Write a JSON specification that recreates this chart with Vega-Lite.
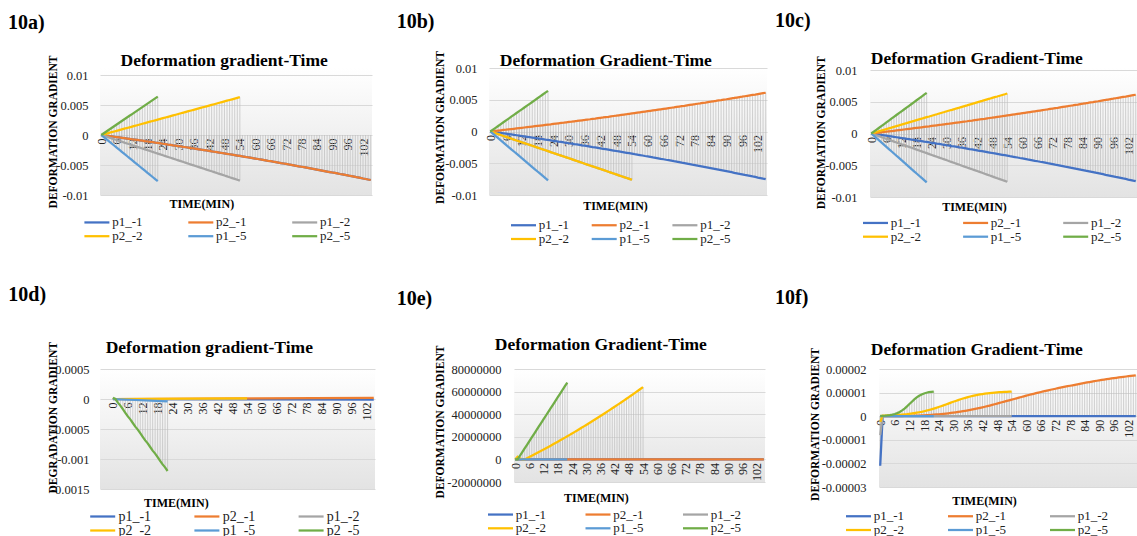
{
"$schema":"https://vega.github.io/schema/vega-lite/v6.json",
"background":"white",
"padding":{"left":8,"top":11,"right":0,"bottom":0},
"config":{
 "font":"Liberation Serif",
 "view":{"stroke":null,"fill":{"gradient":"linear","x1":0,"y1":0,"x2":0,"y2":1,"stops":[{"offset":0,"color":"#ffffff"},{"offset":1,"color":"#e3e3e3"}]}},
 "axisX":{"labelFont":"Liberation Serif","titleFont":"Liberation Serif","labelAngle":270,"labelFontSize":12,"labelPadding":3,"ticks":false,"domain":false,"grid":false,"labelOverlap":false,"labelFlush":false,"zindex":1,"titleFontSize":12,"titleFontWeight":"bold","titleBaseline":"alphabetic","labelColor":"#222","titleColor":"#000"},
 "axisY":{"labelFont":"Liberation Serif","titleFont":"Liberation Serif","labelFontSize":12.5,"labelPadding":12,"ticks":false,"domain":false,"grid":true,"gridColor":"#d9d9d9","titleFontSize":11.5,"titleFontWeight":"bold","titleAngle":270,"titleAlign":"center","titleBaseline":"middle","labelColor":"#222","titleColor":"#000"},
 "legend":{"labelFont":"Liberation Serif","columns":3,"direction":"horizontal","symbolType":"M-3.333,0L3.333,0","symbolSize":56.25,"symbolStrokeWidth":2.5,"labelFontSize":13,"labelOffset":8.75,"rowPadding":-1,"gridAlign":"all","labelColor":"#222","padding":0},
 "line":{"strokeWidth":2.25},
 "rule":{"color":"#bdbdbd","strokeWidth":0.7},
 "mark":{"invalid":"filter"},
 "title":{"font":"Liberation Serif","fontWeight":"bold","color":"#000","baseline":"alphabetic"}
},
"datasets":{
"L1":[{"t":0,"n":0,"p":0},{"t":1,"n":-0.00006,"p":0.00005},{"t":2,"n":-0.00012,"p":0.00009},{"t":3,"n":-0.00017,"p":0.00014},{"t":4,"n":-0.00023,"p":0.00019},{"t":5,"n":-0.00029,"p":0.00024},{"t":6,"n":-0.00035,"p":0.00028},{"t":7,"n":-0.00041,"p":0.00033},{"t":8,"n":-0.00047,"p":0.00038},{"t":9,"n":-0.00053,"p":0.00043},{"t":10,"n":-0.00059,"p":0.00048},{"t":11,"n":-0.00065,"p":0.00053},{"t":12,"n":-0.00071,"p":0.00058},{"t":13,"n":-0.00077,"p":0.00063},{"t":14,"n":-0.00083,"p":0.00068},{"t":15,"n":-0.00089,"p":0.00073},{"t":16,"n":-0.00095,"p":0.00078},{"t":17,"n":-0.00102,"p":0.00083},{"t":18,"n":-0.00108,"p":0.00088},{"t":19,"n":-0.00114,"p":0.00093},{"t":20,"n":-0.0012,"p":0.00098},{"t":21,"n":-0.00127,"p":0.00103},{"t":22,"n":-0.00133,"p":0.00108},{"t":23,"n":-0.00139,"p":0.00113},{"t":24,"n":-0.00146,"p":0.00119},{"t":25,"n":-0.00152,"p":0.00124},{"t":26,"n":-0.00159,"p":0.00129},{"t":27,"n":-0.00165,"p":0.00134},{"t":28,"n":-0.00172,"p":0.00139},{"t":29,"n":-0.00178,"p":0.00145},{"t":30,"n":-0.00185,"p":0.0015},{"t":31,"n":-0.00191,"p":0.00155},{"t":32,"n":-0.00198,"p":0.00161},{"t":33,"n":-0.00204,"p":0.00166},{"t":34,"n":-0.00211,"p":0.00172},{"t":35,"n":-0.00218,"p":0.00177},{"t":36,"n":-0.00224,"p":0.00182},{"t":37,"n":-0.00231,"p":0.00188},{"t":38,"n":-0.00238,"p":0.00193},{"t":39,"n":-0.00245,"p":0.00199},{"t":40,"n":-0.00251,"p":0.00204},{"t":41,"n":-0.00258,"p":0.0021},{"t":42,"n":-0.00265,"p":0.00216},{"t":43,"n":-0.00272,"p":0.00221},{"t":44,"n":-0.00279,"p":0.00227},{"t":45,"n":-0.00286,"p":0.00232},{"t":46,"n":-0.00293,"p":0.00238},{"t":47,"n":-0.003,"p":0.00244},{"t":48,"n":-0.00307,"p":0.00249},{"t":49,"n":-0.00314,"p":0.00255},{"t":50,"n":-0.00321,"p":0.00261},{"t":51,"n":-0.00328,"p":0.00267},{"t":52,"n":-0.00335,"p":0.00272},{"t":53,"n":-0.00342,"p":0.00278},{"t":54,"n":-0.00349,"p":0.00284},{"t":55,"n":-0.00357,"p":0.0029},{"t":56,"n":-0.00364,"p":0.00296},{"t":57,"n":-0.00371,"p":0.00302},{"t":58,"n":-0.00378,"p":0.00308},{"t":59,"n":-0.00386,"p":0.00314},{"t":60,"n":-0.00393,"p":0.0032},{"t":61,"n":-0.004,"p":0.00326},{"t":62,"n":-0.00408,"p":0.00332},{"t":63,"n":-0.00415,"p":0.00338},{"t":64,"n":-0.00422,"p":0.00344},{"t":65,"n":-0.0043,"p":0.0035},{"t":66,"n":-0.00437,"p":0.00356},{"t":67,"n":-0.00445,"p":0.00362},{"t":68,"n":-0.00452,"p":0.00368},{"t":69,"n":-0.0046,"p":0.00374},{"t":70,"n":-0.00468,"p":0.0038},{"t":71,"n":-0.00475,"p":0.00387},{"t":72,"n":-0.00483,"p":0.00393},{"t":73,"n":-0.00491,"p":0.00399},{"t":74,"n":-0.00498,"p":0.00405},{"t":75,"n":-0.00506,"p":0.00412},{"t":76,"n":-0.00514,"p":0.00418},{"t":77,"n":-0.00522,"p":0.00424},{"t":78,"n":-0.00529,"p":0.0043},{"t":79,"n":-0.00537,"p":0.00437},{"t":80,"n":-0.00545,"p":0.00443},{"t":81,"n":-0.00553,"p":0.0045},{"t":82,"n":-0.00561,"p":0.00456},{"t":83,"n":-0.00569,"p":0.00463},{"t":84,"n":-0.00577,"p":0.00469},{"t":85,"n":-0.00585,"p":0.00476},{"t":86,"n":-0.00593,"p":0.00482},{"t":87,"n":-0.00601,"p":0.00489},{"t":88,"n":-0.00609,"p":0.00495},{"t":89,"n":-0.00617,"p":0.00502},{"t":90,"n":-0.00625,"p":0.00508},{"t":91,"n":-0.00633,"p":0.00515},{"t":92,"n":-0.00641,"p":0.00522},{"t":93,"n":-0.0065,"p":0.00528},{"t":94,"n":-0.00658,"p":0.00535},{"t":95,"n":-0.00666,"p":0.00542},{"t":96,"n":-0.00674,"p":0.00548},{"t":97,"n":-0.00683,"p":0.00555},{"t":98,"n":-0.00691,"p":0.00562},{"t":99,"n":-0.00699,"p":0.00569},{"t":100,"n":-0.00708,"p":0.00576},{"t":101,"n":-0.00716,"p":0.00582},{"t":102,"n":-0.00725,"p":0.00589},{"t":103,"n":-0.00733,"p":0.00596},{"t":104,"n":-0.00742,"p":0.00603},{"t":105,"n":-0.0075,"p":0.0061}],
"L2":[{"t":0,"n":0,"p":0},{"t":1,"n":-0.00014,"p":0.00012},{"t":2,"n":-0.00028,"p":0.00023},{"t":3,"n":-0.00042,"p":0.00035},{"t":4,"n":-0.00056,"p":0.00047},{"t":5,"n":-0.0007,"p":0.00058},{"t":6,"n":-0.00084,"p":0.0007},{"t":7,"n":-0.00099,"p":0.00082},{"t":8,"n":-0.00113,"p":0.00093},{"t":9,"n":-0.00127,"p":0.00105},{"t":10,"n":-0.00141,"p":0.00117},{"t":11,"n":-0.00155,"p":0.00128},{"t":12,"n":-0.00169,"p":0.0014},{"t":13,"n":-0.00183,"p":0.00152},{"t":14,"n":-0.00197,"p":0.00163},{"t":15,"n":-0.00211,"p":0.00175},{"t":16,"n":-0.00225,"p":0.00187},{"t":17,"n":-0.00239,"p":0.00198},{"t":18,"n":-0.00253,"p":0.0021},{"t":19,"n":-0.00267,"p":0.00222},{"t":20,"n":-0.00281,"p":0.00233},{"t":21,"n":-0.00296,"p":0.00245},{"t":22,"n":-0.0031,"p":0.00257},{"t":23,"n":-0.00324,"p":0.00268},{"t":24,"n":-0.00338,"p":0.0028},{"t":25,"n":-0.00352,"p":0.00292},{"t":26,"n":-0.00366,"p":0.00303},{"t":27,"n":-0.0038,"p":0.00315},{"t":28,"n":-0.00394,"p":0.00327},{"t":29,"n":-0.00408,"p":0.00338},{"t":30,"n":-0.00422,"p":0.0035},{"t":31,"n":-0.00436,"p":0.00362},{"t":32,"n":-0.0045,"p":0.00373},{"t":33,"n":-0.00464,"p":0.00385},{"t":34,"n":-0.00479,"p":0.00397},{"t":35,"n":-0.00493,"p":0.00408},{"t":36,"n":-0.00507,"p":0.0042},{"t":37,"n":-0.00521,"p":0.00432},{"t":38,"n":-0.00535,"p":0.00443},{"t":39,"n":-0.00549,"p":0.00455},{"t":40,"n":-0.00563,"p":0.00467},{"t":41,"n":-0.00577,"p":0.00478},{"t":42,"n":-0.00591,"p":0.0049},{"t":43,"n":-0.00605,"p":0.00502},{"t":44,"n":-0.00619,"p":0.00513},{"t":45,"n":-0.00633,"p":0.00525},{"t":46,"n":-0.00647,"p":0.00537},{"t":47,"n":-0.00661,"p":0.00548},{"t":48,"n":-0.00676,"p":0.0056},{"t":49,"n":-0.0069,"p":0.00572},{"t":50,"n":-0.00704,"p":0.00583},{"t":51,"n":-0.00718,"p":0.00595},{"t":52,"n":-0.00732,"p":0.00607},{"t":53,"n":-0.00746,"p":0.00618},{"t":54,"n":-0.0076,"p":0.0063}],
"L5":[{"t":0,"n":0,"p":0},{"t":1,"n":-0.00035,"p":0.00029},{"t":2,"n":-0.0007,"p":0.00058},{"t":3,"n":-0.00105,"p":0.00087},{"t":4,"n":-0.0014,"p":0.00116},{"t":5,"n":-0.00175,"p":0.00145},{"t":6,"n":-0.0021,"p":0.00175},{"t":7,"n":-0.00245,"p":0.00204},{"t":8,"n":-0.0028,"p":0.00233},{"t":9,"n":-0.00315,"p":0.00262},{"t":10,"n":-0.0035,"p":0.00291},{"t":11,"n":-0.00385,"p":0.0032},{"t":12,"n":-0.0042,"p":0.00349},{"t":13,"n":-0.00455,"p":0.00378},{"t":14,"n":-0.0049,"p":0.00407},{"t":15,"n":-0.00525,"p":0.00436},{"t":16,"n":-0.0056,"p":0.00465},{"t":17,"n":-0.00595,"p":0.00495},{"t":18,"n":-0.0063,"p":0.00524},{"t":19,"n":-0.00665,"p":0.00553},{"t":20,"n":-0.007,"p":0.00582},{"t":21,"n":-0.00735,"p":0.00611},{"t":22,"n":-0.0077,"p":0.0064}],
"D":[{"t":0,"a":0,"b":0,"c":0,"d":0,"e":0,"f":0.00002},{"t":1,"f":0},{"t":2,"f":-0.00006},{"t":3,"f":-0.00011},{"t":4,"f":-0.00017},{"t":5,"f":-0.00023},{"t":6,"f":-0.00029},{"t":7,"f":-0.00034},{"t":8,"f":-0.0004},{"t":9,"f":-0.00046},{"t":10,"f":-0.00051},{"t":11,"f":-0.00057},{"t":12,"f":-0.00063},{"t":13,"f":-0.00069},{"t":14,"f":-0.00074},{"t":15,"f":-0.0008},{"t":16,"f":-0.00086},{"t":17,"f":-0.00091},{"t":18,"f":-0.00097},{"t":19,"f":-0.00103},{"t":20,"f":-0.00109},{"t":21,"f":-0.00114},{"t":22,"e":-0.00004,"f":-0.0012},{"t":54,"c":0,"d":0.00001},{"t":105,"a":-0.00001,"b":0.00002}],
"E":[{"t":0,"a":0,"b":0,"d":0,"e":0,"f":0},{"t":1,"d":2.4e6,"f":0},{"t":2,"d":1e6,"f":3.24e6},{"t":3,"d":0,"f":6.48e6},{"t":4,"d":0,"f":9.71e6},{"t":5,"d":1.06e6,"f":1.295e7},{"t":6,"d":2.13e6,"f":1.619e7},{"t":7,"d":3.21e6,"f":1.943e7},{"t":8,"d":4.3e6,"f":2.267e7},{"t":9,"d":5.4e6,"f":2.59e7},{"t":10,"d":6.5e6,"f":2.914e7},{"t":11,"d":7.62e6,"f":3.238e7},{"t":12,"d":8.74e6,"f":3.562e7},{"t":13,"d":9.87e6,"f":3.886e7},{"t":14,"d":1.102e7,"f":4.21e7},{"t":15,"d":1.217e7,"f":4.533e7},{"t":16,"d":1.333e7,"f":4.857e7},{"t":17,"d":1.449e7,"f":5.181e7},{"t":18,"d":1.567e7,"f":5.505e7},{"t":19,"d":1.686e7,"f":5.829e7},{"t":20,"d":1.805e7,"f":6.152e7},{"t":21,"d":1.926e7,"f":6.476e7},{"t":22,"d":2.047e7,"e":0,"f":6.8e7},{"t":23,"d":2.169e7},{"t":24,"d":2.292e7},{"t":25,"d":2.416e7},{"t":26,"d":2.541e7},{"t":27,"d":2.667e7},{"t":28,"d":2.793e7},{"t":29,"d":2.921e7},{"t":30,"d":3.049e7},{"t":31,"d":3.179e7},{"t":32,"d":3.309e7},{"t":33,"d":3.44e7},{"t":34,"d":3.572e7},{"t":35,"d":3.705e7},{"t":36,"d":3.839e7},{"t":37,"d":3.973e7},{"t":38,"d":4.109e7},{"t":39,"d":4.245e7},{"t":40,"d":4.383e7},{"t":41,"d":4.521e7},{"t":42,"d":4.66e7},{"t":43,"d":4.8e7},{"t":44,"d":4.941e7},{"t":45,"d":5.083e7},{"t":46,"d":5.225e7},{"t":47,"d":5.369e7},{"t":48,"d":5.513e7},{"t":49,"d":5.659e7},{"t":50,"d":5.805e7},{"t":51,"d":5.952e7},{"t":52,"d":6.1e7},{"t":53,"d":6.249e7},{"t":54,"d":6.4e7},{"t":105,"a":0,"b":0}],
"F":[{"t":0,"a":-2.1e-5,"b":0,"c":-8e-6,"d":-2.4e-6,"e":0,"f":0.1e-6},{"t":1,"a":0,"b":0,"c":0,"d":0.23e-6,"f":0.15e-6},{"t":2,"b":0,"d":0.27e-6,"f":0.22e-6},{"t":3,"b":0.01e-6,"d":0.31e-6,"f":0.32e-6},{"t":4,"b":0.02e-6,"d":0.35e-6,"f":0.46e-6},{"t":5,"b":0.03e-6,"d":0.4e-6,"f":0.66e-6},{"t":6,"b":0.04e-6,"d":0.46e-6,"f":0.93e-6},{"t":7,"b":0.05e-6,"d":0.53e-6,"f":1.31e-6},{"t":8,"b":0.06e-6,"d":0.6e-6,"f":1.81e-6},{"t":9,"b":0.08e-6,"d":0.69e-6,"f":2.45e-6},{"t":10,"b":0.1e-6,"d":0.79e-6,"f":3.24e-6},{"t":11,"b":0.13e-6,"d":0.89e-6,"f":4.15e-6},{"t":12,"b":0.16e-6,"d":1.02e-6,"f":5.15e-6},{"t":13,"b":0.19e-6,"d":1.15e-6,"f":6.15e-6},{"t":14,"b":0.22e-6,"d":1.31e-6,"f":7.11e-6},{"t":15,"b":0.25e-6,"d":1.48e-6,"f":7.95e-6},{"t":16,"b":0.29e-6,"d":1.67e-6,"f":8.65e-6},{"t":17,"b":0.34e-6,"d":1.87e-6,"f":9.21e-6},{"t":18,"b":0.39e-6,"d":2.1e-6,"f":9.63e-6},{"t":19,"b":0.45e-6,"d":2.35e-6,"f":9.94e-6},{"t":20,"b":0.5e-6,"d":2.62e-6,"f":10.17e-6},{"t":21,"b":0.57e-6,"d":2.91e-6,"f":10.33e-6},{"t":22,"b":0.65e-6,"d":3.22e-6,"e":0,"f":10.45e-6},{"t":23,"b":0.73e-6,"d":3.54e-6},{"t":24,"b":0.81e-6,"d":3.88e-6},{"t":25,"b":0.9e-6,"d":4.24e-6},{"t":26,"b":1.01e-6,"d":4.6e-6},{"t":27,"b":1.12e-6,"d":4.97e-6},{"t":28,"b":1.24e-6,"d":5.35e-6},{"t":29,"b":1.37e-6,"d":5.73e-6},{"t":30,"b":1.5e-6,"d":6.1e-6},{"t":31,"b":1.65e-6,"d":6.46e-6},{"t":32,"b":1.8e-6,"d":6.82e-6},{"t":33,"b":1.96e-6,"d":7.16e-6},{"t":34,"b":2.13e-6,"d":7.48e-6},{"t":35,"b":2.3e-6,"d":7.79e-6},{"t":36,"b":2.49e-6,"d":8.08e-6},{"t":37,"b":2.68e-6,"d":8.35e-6},{"t":38,"b":2.88e-6,"d":8.6e-6},{"t":39,"b":3.09e-6,"d":8.83e-6},{"t":40,"b":3.3e-6,"d":9.03e-6},{"t":41,"b":3.53e-6,"d":9.22e-6},{"t":42,"b":3.76e-6,"d":9.39e-6},{"t":43,"b":4.0e-6,"d":9.55e-6},{"t":44,"b":4.25e-6,"d":9.68e-6},{"t":45,"b":4.5e-6,"d":9.81e-6},{"t":46,"b":4.77e-6,"d":9.91e-6},{"t":47,"b":5.05e-6,"d":10.01e-6},{"t":48,"b":5.33e-6,"d":10.1e-6},{"t":49,"b":5.61e-6,"d":10.17e-6},{"t":50,"b":5.9e-6,"d":10.24e-6},{"t":51,"b":6.18e-6,"d":10.3e-6},{"t":52,"b":6.46e-6,"d":10.35e-6},{"t":53,"b":6.74e-6,"d":10.39e-6},{"t":54,"b":7.02e-6,"c":0,"d":10.43e-6},{"t":55,"b":7.3e-6},{"t":56,"b":7.58e-6},{"t":57,"b":7.86e-6},{"t":58,"b":8.14e-6},{"t":59,"b":8.42e-6},{"t":60,"b":8.7e-6},{"t":61,"b":8.97e-6},{"t":62,"b":9.23e-6},{"t":63,"b":9.49e-6},{"t":64,"b":9.75e-6},{"t":65,"b":10.0e-6},{"t":66,"b":10.25e-6},{"t":67,"b":10.49e-6},{"t":68,"b":10.73e-6},{"t":69,"b":10.97e-6},{"t":70,"b":11.2e-6},{"t":71,"b":11.42e-6},{"t":72,"b":11.64e-6},{"t":73,"b":11.86e-6},{"t":74,"b":12.08e-6},{"t":75,"b":12.3e-6},{"t":76,"b":12.5e-6},{"t":77,"b":12.7e-6},{"t":78,"b":12.9e-6},{"t":79,"b":13.1e-6},{"t":80,"b":13.3e-6},{"t":81,"b":13.5e-6},{"t":82,"b":13.7e-6},{"t":83,"b":13.9e-6},{"t":84,"b":14.1e-6},{"t":85,"b":14.3e-6},{"t":86,"b":14.48e-6},{"t":87,"b":14.66e-6},{"t":88,"b":14.84e-6},{"t":89,"b":15.02e-6},{"t":90,"b":15.2e-6},{"t":91,"b":15.36e-6},{"t":92,"b":15.52e-6},{"t":93,"b":15.68e-6},{"t":94,"b":15.84e-6},{"t":95,"b":16.0e-6},{"t":96,"b":16.14e-6},{"t":97,"b":16.28e-6},{"t":98,"b":16.42e-6},{"t":99,"b":16.56e-6},{"t":100,"b":16.7e-6},{"t":101,"b":16.82e-6},{"t":102,"b":16.94e-6},{"t":103,"b":17.06e-6},{"t":104,"b":17.18e-6},{"t":105,"a":0,"b":17.3e-6}]
},
"vconcat":[
{"hconcat":[
 {"title":{"text":"10a)","anchor":"start","frame":"group","dx":-92,"offset":19.4,"fontSize":20},"bounds":"flush","resolve":{"scale":{"color":"independent"},"legend":{"color":"independent"}},
  "vconcat":[{
   "width":272,"height":127,
   "title":{"text":"Deformation gradient-Time","anchor":"middle","frame":"group","dx":-11.8,"offset":-14.7,"fontSize":17.5},
   "encoding":{
    "x":{"field":"t","type":"quantitative","scale":{"domain":[-0.5,105.5],"nice":false,"zero":false},"axis":{"values":[0,6,12,18,24,30,36,42,48,54,60,66,72,78,84,90,96,102],"offset":-60,"title":"TIME(MIN)","titleX":101.3,"titleY":72.3}},
    "y":{"field":"v","type":"quantitative","scale":{"domain":[-0.01,0.011167],"nice":false,"zero":false},"axis":{"values":[-0.01,-0.005,0,0.005,0.01],"labelExpr":"''+datum.value","title":"DEFORMATION GRADIENT","titleX":-46.7,"titleY":63.5}}
   },
   "layer":[
    {"data":{"name":"L1"},"transform":[{"fold":["n"],"as":["k","v"]}],"mark":"rule","encoding":{"y2":{"datum":0}}},
    {"data":{"name":"L2"},"transform":[{"fold":["n","p"],"as":["k","v"]}],"mark":"rule","encoding":{"y2":{"datum":0}}},
    {"data":{"name":"L5"},"transform":[{"fold":["n","p"],"as":["k","v"]}],"mark":"rule","encoding":{"y2":{"datum":0}}},
    {"data":{"name":"L1"},"transform":[{"fold":["n"],"as":["k","v"]}],"mark":"line","encoding":{"color":{"datum":"p1_-1","type":"nominal","scale":{"domain":["p1_-1","p2_-1","p1_-2","p2_-2","p1_-5","p2_-5"],"range":["#4472C4","#ED7D31","#A5A5A5","#FFC000","#5B9BD5","#70AD47"]},"legend":{"title":null,"orient":"none","legendX":-9.6,"legendY":147.7,"columnPadding":39.9,"rowPadding":-0.9}}}},
    {"data":{"name":"L1"},"transform":[{"fold":["n"],"as":["k","v"]}],"mark":"line","encoding":{"color":{"datum":"p2_-1","type":"nominal"}}},
    {"data":{"name":"L2"},"transform":[{"fold":["n"],"as":["k","v"]}],"mark":"line","encoding":{"color":{"datum":"p1_-2","type":"nominal"}}},
    {"data":{"name":"L2"},"transform":[{"fold":["p"],"as":["k","v"]}],"mark":"line","encoding":{"color":{"datum":"p2_-2","type":"nominal"}}},
    {"data":{"name":"L5"},"transform":[{"fold":["n"],"as":["k","v"]}],"mark":"line","encoding":{"color":{"datum":"p1_-5","type":"nominal"}}},
    {"data":{"name":"L5"},"transform":[{"fold":["p"],"as":["k","v"]}],"mark":"line","encoding":{"color":{"datum":"p2_-5","type":"nominal"}}}
   ]
  }]},
 {"hconcat":[
  {"title":{"text":"10b)","anchor":"start","frame":"group","dx":-92.3,"offset":18.7,"fontSize":20},"bounds":"flush","resolve":{"scale":{"color":"independent"},"legend":{"color":"independent"}},
   "vconcat":[{
    "width":278,"height":127,
    "title":{"text":"Deformation Gradient-Time","anchor":"middle","frame":"group","dx":-22.2,"offset":-18.5,"fontSize":17.5},
    "encoding":{
     "x":{"field":"t","type":"quantitative","scale":{"domain":[-0.5,105.5],"nice":false,"zero":false},"axis":{"values":[0,6,12,18,24,30,36,42,48,54,60,66,72,78,84,90,96,102],"offset":-63.5,"title":"TIME(MIN)","titleX":126,"titleY":78.2}},
     "y":{"field":"v","type":"quantitative","scale":{"domain":[-0.01,0.01],"nice":false,"zero":false},"axis":{"values":[-0.01,-0.005,0,0.005,0.01],"labelExpr":"''+datum.value","title":"DEFORMATION GRADIENT","titleX":-49,"titleY":59}}
    },
    "layer":[
     {"data":{"name":"L1"},"transform":[{"fold":["n","p"],"as":["k","v"]}],"mark":"rule","encoding":{"y2":{"datum":0}}},
     {"data":{"name":"L2"},"transform":[{"fold":["n"],"as":["k","v"]}],"mark":"rule","encoding":{"y2":{"datum":0}}},
     {"data":{"name":"L5"},"transform":[{"fold":["n","p"],"as":["k","v"]}],"mark":"rule","encoding":{"y2":{"datum":0}}},
     {"data":{"name":"L1"},"transform":[{"fold":["n"],"as":["k","v"]}],"mark":"line","encoding":{"color":{"datum":"p1_-1","type":"nominal","scale":{"domain":["p1_-1","p2_-1","p1_-2","p2_-2","p1_-5","p2_-5"],"range":["#4472C4","#ED7D31","#A5A5A5","#FFC000","#5B9BD5","#70AD47"]},"legend":{"title":null,"orient":"none","legendX":28,"legendY":150.5,"columnPadding":16.7,"rowPadding":-0.2}}}},
     {"data":{"name":"L1"},"transform":[{"fold":["p"],"as":["k","v"]}],"mark":"line","encoding":{"color":{"datum":"p2_-1","type":"nominal"}}},
     {"data":{"name":"L2"},"transform":[{"fold":["n"],"as":["k","v"]}],"mark":"line","encoding":{"color":{"datum":"p1_-2","type":"nominal"}}},
     {"data":{"name":"L2"},"transform":[{"fold":["n"],"as":["k","v"]}],"mark":"line","encoding":{"color":{"datum":"p2_-2","type":"nominal"}}},
     {"data":{"name":"L5"},"transform":[{"fold":["n"],"as":["k","v"]}],"mark":"line","encoding":{"color":{"datum":"p1_-5","type":"nominal"}}},
     {"data":{"name":"L5"},"transform":[{"fold":["p"],"as":["k","v"]}],"mark":"line","encoding":{"color":{"datum":"p2_-5","type":"nominal"}}}
    ]
   }]},
  {"title":{"text":"10c)","anchor":"start","frame":"group","dx":-95,"offset":18.6,"fontSize":20},"bounds":"flush","resolve":{"scale":{"color":"independent"},"legend":{"color":"independent"}},
   "vconcat":[{
    "width":267,"height":129,
    "title":{"text":"Deformation Gradient-Time","anchor":"middle","frame":"group","dx":-26.7,"offset":-11.5,"fontSize":17.5},
    "encoding":{
     "x":{"field":"t","type":"quantitative","scale":{"domain":[-0.5,105.5],"nice":false,"zero":false},"axis":{"values":[0,6,12,18,24,30,36,42,48,54,60,66,72,78,84,90,96,102],"offset":-63.5,"title":"TIME(MIN)","titleX":104,"titleY":77}},
     "y":{"field":"v","type":"quantitative","scale":{"domain":[-0.01,0.010315],"nice":false,"zero":false},"axis":{"values":[-0.01,-0.005,0,0.005,0.01],"labelExpr":"''+datum.value","labelPadding":13,"title":"DEFORMATION GRADIENT","titleX":-49,"titleY":64.3}}
    },
    "layer":[
     {"data":{"name":"L1"},"transform":[{"fold":["n","p"],"as":["k","v"]}],"mark":"rule","encoding":{"y2":{"datum":0}}},
     {"data":{"name":"L2"},"transform":[{"fold":["n","p"],"as":["k","v"]}],"mark":"rule","encoding":{"y2":{"datum":0}}},
     {"data":{"name":"L5"},"transform":[{"fold":["n","p"],"as":["k","v"]}],"mark":"rule","encoding":{"y2":{"datum":0}}},
     {"data":{"name":"L1"},"transform":[{"fold":["n"],"as":["k","v"]}],"mark":"line","encoding":{"color":{"datum":"p1_-1","type":"nominal","scale":{"domain":["p1_-1","p2_-1","p1_-2","p2_-2","p1_-5","p2_-5"],"range":["#4472C4","#ED7D31","#A5A5A5","#FFC000","#5B9BD5","#70AD47"]},"legend":{"title":null,"orient":"none","legendX":-1,"legendY":148.2,"columnPadding":36.1,"rowPadding":-1.2}}}},
     {"data":{"name":"L1"},"transform":[{"fold":["p"],"as":["k","v"]}],"mark":"line","encoding":{"color":{"datum":"p2_-1","type":"nominal"}}},
     {"data":{"name":"L2"},"transform":[{"fold":["n"],"as":["k","v"]}],"mark":"line","encoding":{"color":{"datum":"p1_-2","type":"nominal"}}},
     {"data":{"name":"L2"},"transform":[{"fold":["p"],"as":["k","v"]}],"mark":"line","encoding":{"color":{"datum":"p2_-2","type":"nominal"}}},
     {"data":{"name":"L5"},"transform":[{"fold":["n"],"as":["k","v"]}],"mark":"line","encoding":{"color":{"datum":"p1_-5","type":"nominal"}}},
     {"data":{"name":"L5"},"transform":[{"fold":["p"],"as":["k","v"]}],"mark":"line","encoding":{"color":{"datum":"p2_-5","type":"nominal"}}}
    ]
   }]}
 ],"spacing":381,"bounds":"flush","resolve":{"scale":{"color":"independent"},"legend":{"color":"independent"}}}
],"spacing":389,"bounds":"flush","resolve":{"scale":{"color":"independent"},"legend":{"color":"independent"}}},
{"hconcat":[
 {"title":{"text":"10d)","anchor":"start","frame":"group","dx":-91.7,"offset":34,"fontSize":20},"bounds":"flush","resolve":{"scale":{"color":"independent"},"legend":{"color":"independent"}},
  "vconcat":[{
   "width":275,"height":120,
   "title":{"text":"Deformation gradient-Time","anchor":"middle","frame":"group","dx":-28.2,"offset":-15.1,"fontSize":17.5},
   "encoding":{
    "x":{"field":"t","type":"quantitative","scale":{"domain":[-5.2,105.5],"nice":false,"zero":false},"axis":{"values":[0,6,12,18,24,30,36,42,48,54,60,66,72,78,84,90,96,102],"offset":-90,"title":"TIME(MIN)","titleX":75.8,"titleY":107.3}},
    "y":{"field":"v","type":"quantitative","scale":{"domain":[-0.0015,0.0005],"nice":false,"zero":false},"axis":{"values":[-0.0015,-0.001,-0.0005,0,0.0005],"labelExpr":"''+datum.value","labelPadding":11,"title":"DEGRADATION GRADIENT","titleX":-46.7,"titleY":48.3}}
   },
   "layer":[
    {"data":{"name":"D"},"transform":[{"fold":["f"],"as":["k","v"]},{"filter":"isValid(datum.v)"}],"mark":"rule","encoding":{"y2":{"datum":0}}},
    {"data":{"name":"D"},"transform":[{"fold":["a"],"as":["k","v"]},{"filter":"isValid(datum.v)"}],"mark":"line","encoding":{"color":{"datum":"p1_-1","type":"nominal","scale":{"domain":["p1_-1","p2_-1","p1_-2","p2_-2","p1_-5","p2_-5"],"range":["#4472C4","#ED7D31","#A5A5A5","#FFC000","#5B9BD5","#70AD47"]},"legend":{"title":null,"orient":"none","legendX":-4.3,"legendY":140.5,"columnPadding":38.2,"labelFontSize":14,"rowPadding":-2.2}}}},
    {"data":{"name":"D"},"transform":[{"fold":["b"],"as":["k","v"]},{"filter":"isValid(datum.v)"}],"mark":"line","encoding":{"color":{"datum":"p2_-1","type":"nominal"}}},
    {"data":{"name":"D"},"transform":[{"fold":["c"],"as":["k","v"]},{"filter":"isValid(datum.v)"}],"mark":"line","encoding":{"color":{"datum":"p1_-2","type":"nominal"}}},
    {"data":{"name":"D"},"transform":[{"fold":["d"],"as":["k","v"]},{"filter":"isValid(datum.v)"}],"mark":"line","encoding":{"color":{"datum":"p2_-2","type":"nominal"}}},
    {"data":{"name":"D"},"transform":[{"fold":["e"],"as":["k","v"]},{"filter":"isValid(datum.v)"}],"mark":"line","encoding":{"color":{"datum":"p1_-5","type":"nominal"}}},
    {"data":{"name":"D"},"transform":[{"fold":["f"],"as":["k","v"]},{"filter":"isValid(datum.v)"}],"mark":"line","encoding":{"color":{"datum":"p2_-5","type":"nominal"}}}
   ]
  }]},
 {"hconcat":[
  {"title":{"text":"10e)","anchor":"start","frame":"group","dx":-117.3,"offset":26.7,"fontSize":20},"bounds":"flush","resolve":{"scale":{"color":"independent"},"legend":{"color":"independent"}},
   "vconcat":[{
    "width":251,"height":113,
    "title":{"text":"Deformation Gradient-Time","anchor":"middle","frame":"group","dx":-38.7,"offset":-8.5,"fontSize":17.5},
    "encoding":{
     "x":{"field":"t","type":"quantitative","scale":{"domain":[-0.5,105.5],"nice":false,"zero":false},"axis":{"values":[0,6,12,18,24,30,36,42,48,54,60,66,72,78,84,90,96,102],"offset":-22.6,"title":"TIME(MIN)","titleX":81.8,"titleY":41.9}},
     "y":{"field":"v","type":"quantitative","scale":{"domain":[-20000000,80000000],"nice":false,"zero":false},"axis":{"values":[-20000000,0,20000000,40000000,60000000,80000000],"labelExpr":"''+datum.value","labelPadding":13,"title":"DEFORMATION GRADIENT","titleX":-74,"titleY":52.5}}
    },
    "layer":[
     {"data":{"name":"E"},"transform":[{"fold":["d","f"],"as":["k","v"]},{"filter":"isValid(datum.v)"}],"mark":"rule","encoding":{"y2":{"datum":0}}},
     {"data":{"name":"E"},"transform":[{"fold":["a"],"as":["k","v"]},{"filter":"isValid(datum.v)"}],"mark":"line","encoding":{"color":{"datum":"p1_-1","type":"nominal","scale":{"domain":["p1_-1","p2_-1","p1_-2","p2_-2","p1_-5","p2_-5"],"range":["#4472C4","#ED7D31","#A5A5A5","#FFC000","#5B9BD5","#70AD47"]},"legend":{"title":null,"orient":"none","legendX":-20,"legendY":138.8,"columnPadding":33.5,"rowPadding":-1.8}}}},
     {"data":{"name":"E"},"transform":[{"fold":["b"],"as":["k","v"]},{"filter":"isValid(datum.v)"}],"mark":"line","encoding":{"color":{"datum":"p2_-1","type":"nominal"}}},
     {"data":{"name":"E"},"transform":[{"fold":["d"],"as":["k","v"]},{"filter":"isValid(datum.v)"}],"mark":"line","encoding":{"color":{"datum":"p2_-2","type":"nominal"}}},
     {"data":{"name":"E"},"transform":[{"fold":["e"],"as":["k","v"]},{"filter":"isValid(datum.v)"}],"mark":"line","encoding":{"color":{"datum":"p1_-5","type":"nominal"}}},
     {"data":{"name":"E"},"transform":[{"fold":["f"],"as":["k","v"]},{"filter":"isValid(datum.v)"}],"mark":"line","encoding":{"color":{"datum":"p2_-5","type":"nominal"}}}
    ]
   }]},
  {"title":{"text":"10f)","anchor":"start","frame":"group","dx":-104,"offset":33.4,"fontSize":20},"bounds":"flush","resolve":{"scale":{"color":"independent"},"legend":{"color":"independent"}},
   "vconcat":[{
    "width":258,"height":118,
    "title":{"text":"Deformation Gradient-Time","anchor":"middle","frame":"group","dx":-31.2,"offset":-11.2,"fontSize":17.5},
    "encoding":{
     "x":{"field":"t","type":"quantitative","scale":{"domain":[-0.5,105.5],"nice":false,"zero":false},"axis":{"values":[0,6,12,18,24,30,36,42,48,54,60,66,72,78,84,90,96,102],"offset":-70.8,"title":"TIME(MIN)","titleX":105,"titleY":88.5}},
     "y":{"field":"v","type":"quantitative","scale":{"domain":[-0.00003,0.00002],"nice":false,"zero":false},"axis":{"values":[-0.00003,-0.00002,-0.00001,0,0.00001,0.00002],"labelExpr":"''+datum.value","labelPadding":13,"title":"DEFORMATION GRADIENT","titleX":-64,"titleY":55}}
    },
    "layer":[
     {"data":{"name":"F"},"transform":[{"fold":["a","b","c","d","f"],"as":["k","v"]},{"filter":"isValid(datum.v)"}],"mark":"rule","encoding":{"y2":{"datum":0}}},
     {"data":{"name":"F"},"transform":[{"fold":["a"],"as":["k","v"]},{"filter":"isValid(datum.v)"}],"mark":"line","encoding":{"color":{"datum":"p1_-1","type":"nominal","scale":{"domain":["p1_-1","p2_-1","p1_-2","p2_-2","p1_-5","p2_-5"],"range":["#4472C4","#ED7D31","#A5A5A5","#FFC000","#5B9BD5","#70AD47"]},"legend":{"title":null,"orient":"none","legendX":-27,"legendY":140.5,"columnPadding":38,"rowPadding":-1.2}}}},
     {"data":{"name":"F"},"transform":[{"fold":["b"],"as":["k","v"]},{"filter":"isValid(datum.v)"}],"mark":"line","encoding":{"color":{"datum":"p2_-1","type":"nominal"}}},
     {"data":{"name":"F"},"transform":[{"fold":["c"],"as":["k","v"]},{"filter":"isValid(datum.v)"}],"mark":"line","encoding":{"color":{"datum":"p1_-2","type":"nominal"}}},
     {"data":{"name":"F"},"transform":[{"fold":["d"],"as":["k","v"]},{"filter":"isValid(datum.v)"}],"mark":"line","encoding":{"color":{"datum":"p2_-2","type":"nominal"}}},
     {"data":{"name":"F"},"transform":[{"fold":["e"],"as":["k","v"]},{"filter":"isValid(datum.v)"}],"mark":"line","encoding":{"color":{"datum":"p1_-5","type":"nominal"}}},
     {"data":{"name":"F"},"transform":[{"fold":["f"],"as":["k","v"]},{"filter":"isValid(datum.v)"}],"mark":"line","encoding":{"color":{"datum":"p2_-5","type":"nominal"}}}
    ]
   }]}
 ],"spacing":365,"bounds":"flush","resolve":{"scale":{"color":"independent"},"legend":{"color":"independent"}}}
],"spacing":414,"bounds":"flush","resolve":{"scale":{"color":"independent"},"legend":{"color":"independent"}}}
],
"spacing":301,
"bounds":"flush",
"resolve":{"scale":{"color":"independent"},"legend":{"color":"independent"}}
}
